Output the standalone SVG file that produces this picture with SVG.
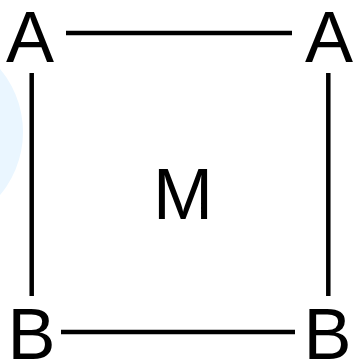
<svg xmlns="http://www.w3.org/2000/svg" width="353" height="361" viewBox="0 0 353 361">
<style>
.lbl{font-family:"Liberation Sans",Arial,sans-serif;font-size:72px;fill:#000;text-anchor:middle}
.edge{stroke:#000;stroke-width:4.5;fill:none}
</style>
<rect width="353" height="361" fill="#fff"/>
<circle cx="-75" cy="132" r="98" fill="#eaf6ff"/>
<g id="connectors">
<line class="edge" x1="66" y1="33" x2="292" y2="33"/>
<line class="edge" x1="61" y1="332" x2="295" y2="332"/>
<line class="edge" x1="31.7" y1="73" x2="31.7" y2="296"/>
<line class="edge" x1="328.3" y1="73" x2="328.3" y2="296"/>
</g>
<g id="nodeA1"><text class="lbl" x="30" y="62">A</text></g>
<g id="nodeA2"><text class="lbl" x="329" y="62">A</text></g>
<g id="nodeB1"><text class="lbl" x="31.5" y="359">B</text></g>
<g id="nodeB2"><text class="lbl" x="327.5" y="359">B</text></g>
<g id="nodeM"><text class="lbl" x="183" y="219">M</text></g>
</svg>
